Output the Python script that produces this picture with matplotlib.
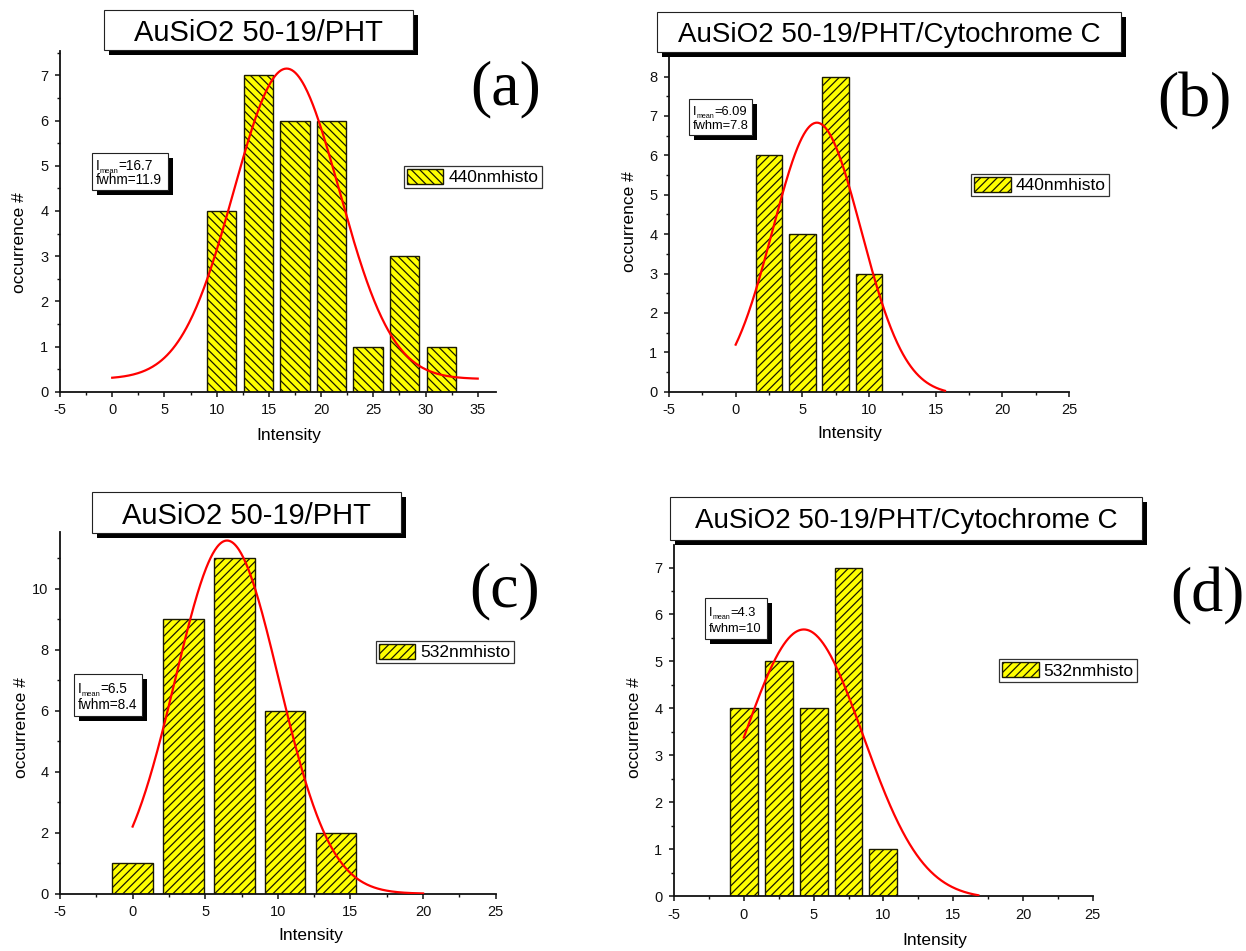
import numpy as np
import matplotlib
matplotlib.use('Agg')
import matplotlib.pyplot as plt
from matplotlib.patches import Rectangle
from matplotlib.text import Annotation
from matplotlib.ticker import MultipleLocator

plt.rcParams['font.family'] = ['Liberation Sans', 'DejaVu Sans']
plt.rcParams['axes.unicode_minus'] = False
plt.rcParams['hatch.linewidth'] = 0.9

W, H = 1246, 951

# histogram bins (centres) and counts
a_centers = [10.5, 14, 17.5, 21, 24.5, 28, 31.5]
a_counts = [4, 7, 6, 6, 1, 3, 1]
b_centers = [2.5, 5, 7.5, 10]
b_counts = [6, 4, 8, 3]
c_centers = [0, 3.5, 7, 10.5, 14]
c_counts = [1, 9, 11, 6, 2]
d_centers = [0, 2.5, 5, 7.5, 10]
d_counts = [4, 5, 4, 7, 1]

# gaussian fits: mean, fwhm, peak height, baseline, x span
a_fit = [16.7, 11.9, 7.15, 0.28, 0, 35]
b_fit = [6.09, 7.8, 6.83, -0.08, 0, 15.7]
c_fit = [6.5, 8.4, 11.58, 0.0, 0, 20]
d_fit = [4.3, 10, 5.68, -0.06, 0, 16.8]

a_title = 'AuSiO2 50-19/PHT'
b_title = 'AuSiO2 50-19/PHT/Cytochrome C'
c_title = 'AuSiO2 50-19/PHT'
d_title = 'AuSiO2 50-19/PHT/Cytochrome C'

a_legend = '440nmhisto'
b_legend = '440nmhisto'
c_legend = '532nmhisto'
d_legend = '532nmhisto'

fig = plt.figure(figsize=(W / 100, H / 100), dpi=100)


def fx(x):
    return x / W


def fy(y):
    return 1 - y / H


def gauss(x, mean, fwhm, peak, base):
    s = fwhm / (2 * np.sqrt(2 * np.log(2)))
    return base + (peak - base) * np.exp(-(x - mean) ** 2 / (2 * s ** 2))


def shadow_box(x0, y0, x1, y1, off=5):
    fig.add_artist(Rectangle((fx(x0 + off), fy(y1 + off)), (x1 - x0) / W, (y1 - y0) / H,
                             transform=fig.transFigure, facecolor='black', edgecolor='none', zorder=5))
    fig.add_artist(Rectangle((fx(x0), fy(y1)), (x1 - x0) / W, (y1 - y0) / H,
                             transform=fig.transFigure, facecolor='white', edgecolor='#222222',
                             lw=0.8, zorder=6))


def mean_label(x, y, value, size):
    # "I" with a small "mean" subscript, then the value on the same baseline
    t1 = Annotation('I', xy=(x, H - y), xycoords='figure pixels', ha='left',
                    va='baseline', fontsize=size, zorder=7)
    fig.add_artist(t1)
    t2 = Annotation('mean', xy=(1, 0), xycoords=t1, ha='left', va='baseline',
                    fontsize=size * 0.55, zorder=7)
    fig.add_artist(t2)
    t3 = Annotation('=' + value, xy=(1, 0), xycoords=(t2, t1), ha='left', va='bottom',
                    fontsize=size, zorder=7)
    fig.add_artist(t3)


def panel(box, xlim, ylim, ymajor, centers, counts, width, hatch, fit, legend_name,
          legend_at, xlabel_at, ylabel_at):
    left, top, right, bottom = box
    ax = fig.add_axes([fx(left), fy(bottom), (right - left) / W, (bottom - top) / H])
    axw, axh = right - left, bottom - top

    bars = ax.bar(centers, counts, width=width, color='#ffff00', edgecolor='#1a1a00',
                  linewidth=1.0, hatch=hatch, zorder=2)

    mean, fwhm, peak, base, x0, x1 = fit
    xs = np.linspace(x0, x1, 400)
    ys = np.clip(gauss(xs, mean, fwhm, peak, base), 0, None)
    ax.plot(xs, ys, color='red', lw=1.6, zorder=3)

    ax.set_xlim(*xlim)
    ax.set_ylim(*ylim)
    ax.xaxis.set_major_locator(MultipleLocator(5))
    ax.xaxis.set_minor_locator(MultipleLocator(2.5))
    ax.yaxis.set_major_locator(MultipleLocator(ymajor))
    ax.yaxis.set_minor_locator(MultipleLocator(ymajor / 2))
    for side in ['top', 'right']:
        ax.spines[side].set_visible(False)
    for side in ['left', 'bottom']:
        ax.spines[side].set_linewidth(1.3)
        ax.spines[side].set_color('#111111')
    ax.tick_params(which='major', direction='out', length=3.8, width=1.1, pad=4.5,
                   labelsize=10.5, color='#111111', labelcolor='#111111')
    ax.tick_params(which='minor', direction='out', length=2.2, width=1.0, color='#111111')
    ax.patch.set_alpha(0)

    ax.set_xlabel('Intensity', fontsize=12.5)
    ax.set_ylabel('occurrence #', fontsize=12.5)
    ax.xaxis.label.set_verticalalignment('center')
    ax.yaxis.label.set_verticalalignment('center')
    ax.xaxis.set_label_coords((xlabel_at[0] - left) / axw, (bottom - xlabel_at[1]) / axh)
    ax.yaxis.set_label_coords((ylabel_at[0] - left) / axw, (bottom - ylabel_at[1]) / axh)

    ax.legend([bars], [legend_name], loc='upper left',
              bbox_to_anchor=(fx(legend_at[0]), fy(legend_at[1])),
              bbox_transform=fig.transFigure, fontsize=12.5, borderaxespad=0,
              borderpad=0.18, handlelength=2.1, handleheight=0.95, handletextpad=0.3,
              fancybox=False, edgecolor='#333333', framealpha=1)
    ax.get_legend().get_frame().set_linewidth(0.9)
    return ax


panel((60, 50.5, 496, 391.7), (-5, 36.75), (0, 7.55), 1, a_centers, a_counts, 2.8,
      '\\\\\\\\', a_fit, a_legend, (403.6, 165.7), (289, 436), (19.3, 243))
panel((669, 57.3, 1069, 391.7), (-5, 25), (0, 8.49), 1, b_centers, b_counts, 2.0,
      '////', b_fit, b_legend, (971, 173.7), (850, 433.5), (630, 222))
panel((60, 531.7, 495.7, 893.7), (-5, 25), (0, 11.87), 2, c_centers, c_counts, 2.8,
      '////', c_fit, c_legend, (375.7, 640.7), (311, 935.5), (22, 728))
panel((674, 545, 1092.8, 896), (-5, 25), (0, 7.48), 1, d_centers, d_counts, 2.0,
      '////', d_fit, d_legend, (999, 659), (935, 940), (634.5, 728))

# boxed titles with drop shadow
for (x0, y0, x1, y1), text, size in [((104, 10, 412.7, 50), a_title, 21),
                                     ((657, 12, 1121, 52), b_title, 20),
                                     ((92, 492, 401, 533), c_title, 21),
                                     ((670, 497, 1142, 540), d_title, 20)]:
    shadow_box(x0, y0, x1, y1, off=5)
    fig.text(fx((x0 + x1) / 2), fy((y0 + y1) / 2), text, ha='center', va='center_baseline',
             fontsize=size, zorder=7)

# fit result boxes
for (x0, y0, x1, y1), mean, fwhm, size in [((92, 153, 168, 190), '16.7', '11.9', 9.8),
                                           ((689, 99, 752, 135), '6.09', '7.8', 9.3),
                                           ((74, 674, 142, 716), '6.5', '8.4', 9.8),
                                           ((705, 598, 767, 639), '4.3', '10', 9.3)]:
    shadow_box(x0, y0, x1, y1, off=5)
    h = y1 - y0
    mean_label(x0 + 4, y0 + 0.45 * h, mean, size)
    fig.text(fx(x0 + 4), fy(y0 + 0.84 * h), 'fwhm=' + fwhm, ha='left',
             va='baseline', fontsize=size, zorder=7)

# panel letters
for (x, y), letter in [((506, 89), '(a)'), ((1194, 101), '(b)'),
                       ((505, 591), '(c)'), ((1207, 596), '(d)')]:
    fig.text(fx(x), fy(y), letter, ha='center', va='center', fontsize=46,
             family=['Liberation Serif', 'DejaVu Serif'])

fig.savefig('out.png', dpi=100)
